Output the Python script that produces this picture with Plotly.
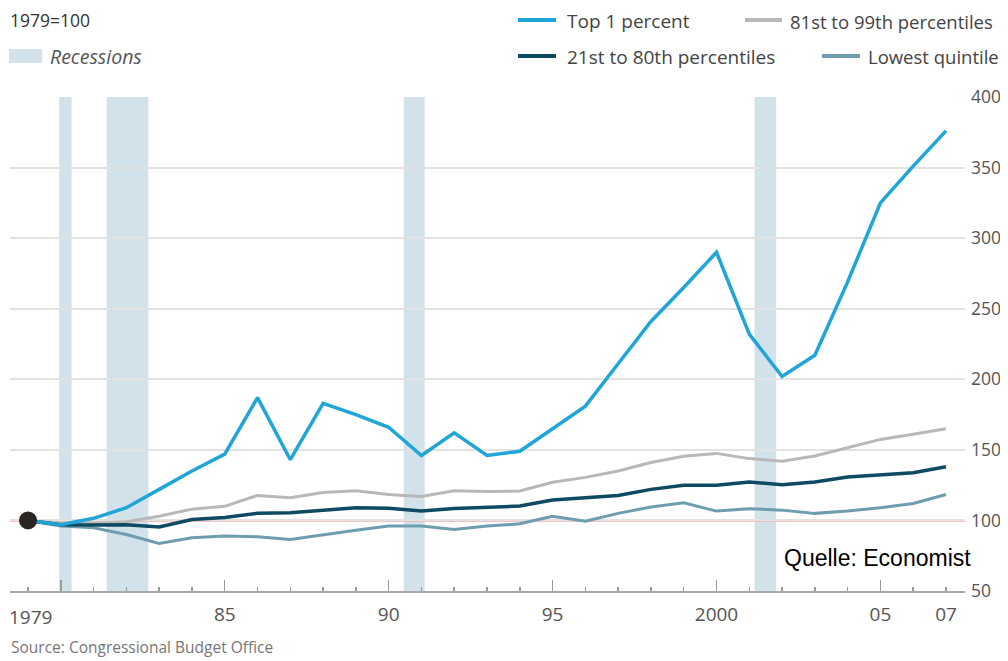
import plotly.graph_objects as go

# ---------------- data ----------------
years = list(range(1979, 2008))
top1 = [100, 97, 101.5, 109, 122, 135, 147, 187, 143, 183, 175, 166, 146, 162, 146,
        149, 165, 181, 211, 241, 265, 290, 232, 202, 217, 269, 325, 351, 376]
p81_99 = [100, 98, 98, 99, 103, 108, 110, 117.7, 116, 119.8, 121, 118.4, 117, 121, 120.5,
          120.8, 127, 130.5, 135, 141, 145.4, 147.5, 143.8, 142, 145.6, 151.6, 157.4, 161, 165]
p21_80 = [100, 97, 96.7, 97, 95.3, 100.7, 102, 105, 105.4, 107.3, 109, 108.6, 106.6, 108.5, 109.5,
          110.2, 114.4, 115.8, 117.7, 122, 125, 125, 127.2, 125.3, 127.2, 130.7, 132, 133.8, 138]
lowest = [100, 96, 94.8, 90, 83.7, 87.7, 88.9, 88.4, 86.5, 90, 93, 96, 96, 93.6, 96,
          97.6, 103, 99.5, 105, 109.5, 112.5, 106.6, 108.3, 107.3, 105, 106.6, 109, 112, 118.4]
base_value = 100
rec_start = [1979.95, 1981.40, 1990.46, 2001.16]
rec_end = [1980.33, 1982.67, 1991.10, 2001.82]
xtick_vals = [1979, 1985, 1990, 1995, 2000, 2005, 2007]
xtick_text = ["1979", "85", "90", "95", "2000", "05", "07"]
major_ticks = [1980, 1985, 1990, 1995, 2000, 2005]
ytick_vals = [50, 100, 150, 200, 250, 300, 350, 400]
series_names = ["Top 1 percent", "81st to 99th percentiles", "21st to 80th percentiles", "Lowest quintile"]

# ---------------- style ----------------
C_TOP = "#1fa5d8"
C_8199 = "#b8b8b8"
C_2180 = "#0f4a63"
C_LOW = "#6f9db0"
C_REC = "#d2e2eb"
C_PINK = "#f3b0b0"
FONT = "Open Sans"
TXT = "#555555"

# the page puts the figure 8px in from the top-left corner
W, H = 1000, 653
L, R, T, B = 2, 43, 89, 70

PLOT_X0, PLOT_X1, PLOT_Y0, PLOT_Y1 = 10, 965, 97, 591  # page pixels of the plot area


def px(x):
    return (x - PLOT_X0) / (PLOT_X1 - PLOT_X0)


def py(y):
    return (PLOT_Y1 - y) / (PLOT_Y1 - PLOT_Y0)


fig = go.Figure()

fig.add_trace(go.Scatter(x=years, y=p81_99, mode="lines", line=dict(color=C_8199, width=3),
                         name=series_names[1], hoverinfo="skip"))
fig.add_trace(go.Scatter(x=years, y=lowest, mode="lines", line=dict(color=C_LOW, width=3),
                         name=series_names[3], hoverinfo="skip"))
fig.add_trace(go.Scatter(x=years, y=p21_80, mode="lines", line=dict(color=C_2180, width=3.5),
                         name=series_names[2], hoverinfo="skip"))
fig.add_trace(go.Scatter(x=years, y=top1, mode="lines", line=dict(color=C_TOP, width=3.5),
                         name=series_names[0], hoverinfo="skip"))
fig.add_trace(go.Scatter(x=[years[0]], y=[base_value], mode="markers",
                         marker=dict(color="#2b2624", size=18), hoverinfo="skip"))
# invisible trace to carry the tall major ticks on an overlaying axis
fig.add_trace(go.Scatter(x=[years[0]], y=[base_value], mode="markers", xaxis="x2",
                         marker=dict(opacity=0), hoverinfo="skip"))

shapes = []
for s, e in zip(rec_start, rec_end):
    shapes.append(dict(type="rect", xref="x", yref="paper", x0=s, x1=e, y0=0, y1=1,
                       fillcolor=C_REC, line=dict(width=0), layer="between"))
shapes.append(dict(type="line", xref="paper", yref="y", x0=0, x1=1, y0=base_value, y1=base_value,
                   line=dict(color=C_PINK, width=2.5), layer="between"))

# legend (drawn manually)
shapes.append(dict(type="rect", xref="paper", yref="paper", x0=px(9), x1=px(42), y0=py(63), y1=py(49),
                   fillcolor=C_REC, line=dict(width=0)))
leg = [(518, 556, 20, C_TOP, 565, series_names[0], 19),
       (745, 782, 20, C_8199, 788, series_names[1], 18.5),
       (518, 556, 56, C_2180, 565, series_names[2], 19),
       (822, 860, 56, C_LOW, 866, series_names[3], 18.5)]
annotations = []
for x0, x1, yy, col, tx, name, fs in leg:
    shapes.append(dict(type="line", xref="paper", yref="paper", x0=px(x0), x1=px(x1), y0=py(yy), y1=py(yy),
                       line=dict(color=col, width=4)))
    annotations.append(dict(xref="paper", yref="paper", x=px(tx), y=py(yy + 1), xanchor="left",
                            yanchor="middle", text=name, showarrow=False,
                            font=dict(family=FONT, size=fs, color="#444444")))

annotations.append(dict(xref="paper", yref="paper", x=px(8), y=py(20), xanchor="left", yanchor="middle",
                        text="1979=100", showarrow=False, font=dict(family=FONT, size=17.5, color="#333333")))
annotations.append(dict(xref="paper", yref="paper", x=px(48), y=py(56), xanchor="left", yanchor="middle",
                        text="<i>Recessions</i>", showarrow=False, font=dict(family=FONT, size=19.5, color=TXT)))
annotations.append(dict(xref="paper", yref="paper", x=px(9), y=py(647), xanchor="left", yanchor="middle",
                        text="Source: Congressional Budget Office", showarrow=False,
                        font=dict(family=FONT, size=15.5, color="#777777")))
annotations.append(dict(xref="paper", yref="paper", x=px(973), y=py(558), xanchor="right", yanchor="middle",
                        text="Quelle: Economist", showarrow=False,
                        font=dict(family="Liberation Sans", size=23, color="#000000")))
# first x label sits at the very left edge; place it as an annotation so it is not dropped
annotations.append(dict(xref="paper", yref="paper", x=px(7), y=py(617), xanchor="left", yanchor="middle",
                        text=xtick_text[0], showarrow=False,
                        font=dict(family=FONT, size=19, color=TXT)))
shown_text = [""] + xtick_text[1:]

ytext = [str(v) for v in ytick_vals]

fig.update_layout(
    width=W, height=H,
    margin=dict(l=L, r=R, t=T, b=B, pad=0),
    paper_bgcolor="white", plot_bgcolor="white",
    showlegend=False,
    shapes=shapes, annotations=annotations,
    xaxis=dict(range=[1978.45, 2007.58], tickmode="array", tickvals=xtick_vals, ticktext=shown_text,
               ticks="inside", ticklen=4, tickwidth=1.5, tickcolor="#999999",
               minor=dict(dtick=1, tick0=1979, ticks="inside", ticklen=4, tickwidth=1.5, tickcolor="#999999",
                          showgrid=False),
               showgrid=False, zeroline=False, showline=True, linecolor="#a8a8a8", linewidth=2,
               tickfont=dict(family=FONT, size=19, color=TXT), ticklabelstandoff=5,
               fixedrange=True),
    xaxis2=dict(range=[1978.45, 2007.58], overlaying="x", anchor="y", side="bottom",
                tickmode="array", tickvals=major_ticks, showticklabels=False,
                ticks="inside", ticklen=11, tickwidth=1.5, tickcolor="#999999",
                showgrid=False, zeroline=False, showline=False),
    yaxis=dict(range=[50, 400], side="right", tickmode="array", tickvals=ytick_vals, ticktext=ytext,
               showgrid=True, gridcolor="#e2e2e2", gridwidth=2, zeroline=False, showline=False,
               ticks="", tickfont=dict(family=FONT, size=17.5, color=TXT), ticklabelstandoff=5,
               fixedrange=True),
)

fig.write_html("out.html", config={"displayModeBar": False, "staticPlot": True})
